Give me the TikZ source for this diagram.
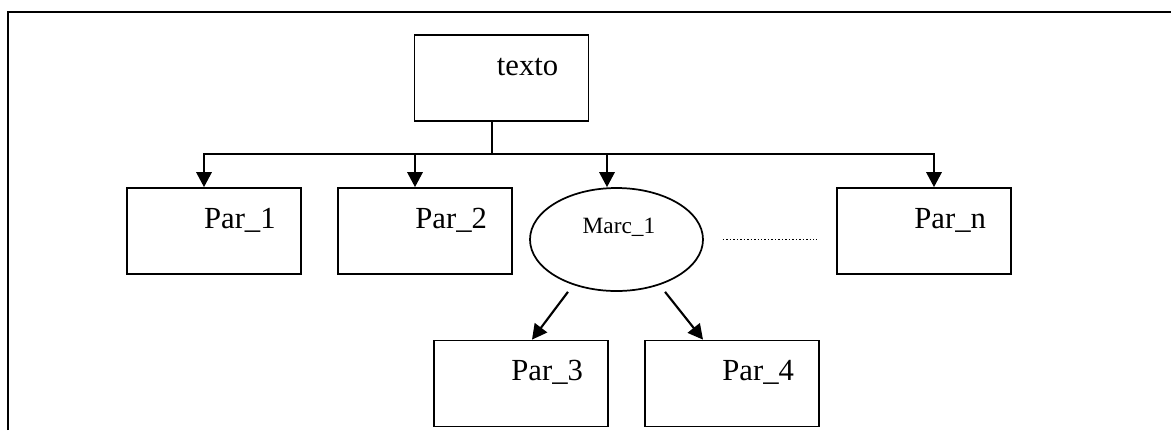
\documentclass[tikz,border=0pt]{standalone}
\usepackage{fontspec}
\setmainfont{Liberation Serif}
\usetikzlibrary{arrows.meta,calc,shapes.geometric}

\tikzset{
  moldura/.style={line width=1.3pt},
  caixa/.style={draw, line width=1.3pt, minimum width=130.5pt, minimum height=64.5pt, inner sep=0pt},
  elipse/.style={draw, ellipse, line width=1.3pt, minimum width=129.75pt, minimum height=77.25pt, inner sep=0pt},
  rotulo/.style={inner sep=0pt, anchor=base west, font=\fontsize{23}{26}\selectfont},
  rotulomenor/.style={inner sep=0pt, anchor=base, font=\fontsize{17.5}{20}\selectfont},
  haste/.style={line width=1.2pt},
  barra/.style={line width=1.5pt, line cap=rect},
  seta/.style={line width=1.6pt, -{Triangle[length=11.25pt,width=11.5pt]}},
  pontilhado/.style={line width=1pt, dash pattern=on 1.1pt off 1.5pt}
}

\begin{document}
\begin{tikzpicture}[x=0.75pt,y=0.75pt,yscale=-1,xscale=1]
%set diagram left start at 0, and has height of 430
\useasboundingbox (0,0) rectangle (1171,430);

% Page frame
\draw[moldura] (8,430) -- (8,12) -- (1171,12);

% Shape: Rectangle
\node[caixa] (texto) at (501.5,78.2) {};
% Shape: Rectangle
\node[caixa] (p1) at (213.7,231) {};
% Shape: Rectangle
\node[caixa] (p2) at (425,231) {};
% Shape: Ellipse
\node[elipse] (marc) at (616.5,239.5) {};
% Shape: Rectangle
\node[caixa] (pn) at (924,231) {};
% Shape: Rectangle
\node[caixa] (p3) at (521,383.5) {};
% Shape: Rectangle
\node[caixa] (p4) at (732,383.5) {};

% Text Node
\node[rotulo] (textoR) at ($(texto.north west)+(83,41)$) {texto};
% Text Node
\node[rotulo] (p1R) at ($(p1.north west)+(78,41)$) {Par\_1};
% Text Node
\node[rotulo] (p2R) at ($(p2.north west)+(78,41)$) {Par\_2};
% Text Node
\node[rotulomenor] (marcR) at ($(marc.center)+(2.5,-6.5)$) {Marc\_1};
% Text Node
\node[rotulo] (pnR) at ($(pn.north west)+(78,41)$) {Par\_n};
% Text Node
\node[rotulo] (p3R) at ($(p3.north west)+(78,41)$) {Par\_3};
% Text Node
\node[rotulo] (p4R) at ($(p4.north west)+(78,41)$) {Par\_4};

% branch points
\coordinate (tronco) at (492,154);
\coordinate (ramo1) at (204,154);
\coordinate (ramo2) at (415,154);
\coordinate (ramo3) at (607,154);
\coordinate (ramon) at (934,154);
\coordinate (fimpont) at (marc.east -| pn.west);

% Connection
\draw[haste] (texto.south -| tronco) -- (tronco);
% Connection
\draw[barra] (ramo1) -- (ramon);
% Connection
\draw[seta] (ramo1) -- (ramo1 |- p1.north);
% Connection
\draw[seta] (ramo2) -- (ramo2 |- p2.north);
% Connection
\draw[seta] (ramo3) -- (ramo3 |- marc.north);
% Connection
\draw[seta] (ramon) -- (ramon |- pn.north);
% Connection
\draw[seta] ([xshift=-36.4pt]marc.south) -- ([xshift=8.25pt]p3.north);
% Connection
\draw[seta] ([xshift=36.4pt]marc.south) -- ([xshift=-21.75pt]p4.north);
% Connection
\draw[pontilhado] ([xshift=14.25pt]marc.east) -- ([xshift=-14.25pt]fimpont);

\end{tikzpicture}
\end{document}
